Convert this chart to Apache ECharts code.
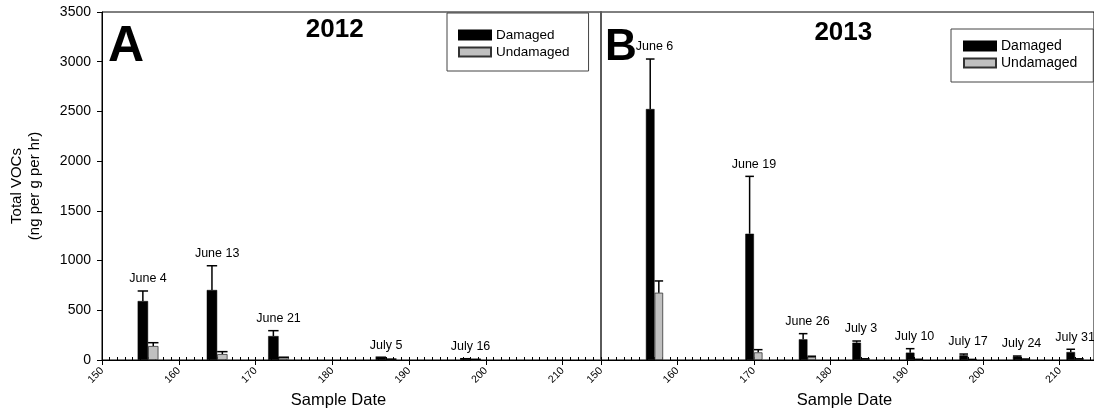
<!DOCTYPE html>
<html><head><meta charset="utf-8">
<script src="https://cdn.jsdelivr.net/npm/echarts@6/dist/echarts.min.js"></script>
<style>html,body{margin:0;padding:0;background:#fff}#c{width:1094px;height:415px}</style>
</head><body><div id="c"></div>
<script>
// ---- data (day of year) ----
const days2012 = [156, 165, 173, 187, 198];
const labels2012 = ['June 4', 'June 13', 'June 21', 'July 5', 'July 16'];
const damaged2012 = [593, 704, 241, 24, 9];
const damagedSE2012 = [101, 244, 54, 4, 4];
const undamaged2012 = [141, 60, 24, 7, 5];
const undamagedSE2012 = [33, 24, 4, 2, 2];

const days2013 = [157, 170, 177, 184, 191, 198, 205, 212];
const labels2013 = ['June 6', 'June 19', 'June 26', 'July 3', 'July 10', 'July 17', 'July 24', 'July 31'];
const damaged2013 = [2524, 1270, 208, 174, 74, 47, 34, 80];
const damagedSE2013 = [503, 577, 57, 17, 40, 13, 6, 28];
const undamaged2013 = [677, 77, 30, 10, 5, 4, 8, 10];
const undamagedSE2013 = [118, 27, 8, 2, 2, 2, 2, 2];

const xTickValues = [150, 160, 170, 180, 190, 200, 210];
const yMin = 0, yMax = 3500, yStep = 500;
const panelTitles = ['A', '2012', 'B', '2013'];
const seriesNames = ['Damaged', 'Undamaged'];
const yAxisName = 'Total VOCs\n(ng per g per hr)';
const xAxisName = 'Sample Date';

const FONT = '"Liberation Sans", Arial, sans-serif';
const BW = [10.4, 8.6];

function errRender(days, dam, damSE, und, undSE, labels, bw) {
  return function (params, api) {
    const i = params.dataIndex;
    const x = api.coord([days[i], 0])[0];
    const children = [];
    const pairs = [[dam[i], damSE[i], x - bw / 2], [und[i], undSE[i], x + bw / 2]];
    let topY = Infinity;
    pairs.forEach(function (p) {
      const y0 = api.coord([days[i], p[0]])[1];
      const y1 = api.coord([days[i], p[0] + p[1]])[1];
      topY = Math.min(topY, y1, y0);
      children.push({type: 'line', shape: {x1: p[2], y1: y0, x2: p[2], y2: y1}, style: {stroke: '#000', lineWidth: 1.5}});
      children.push({type: 'line', shape: {x1: p[2] - bw / 2, y1: y1, x2: p[2] + bw / 2, y2: y1}, style: {stroke: '#000', lineWidth: 1.5}});
    });
    children.push({type: 'text', x: x, y: topY - 12, style: {text: labels[i], fill: '#000', font: '12.5px ' + FONT, textAlign: 'center', textVerticalAlign: 'middle'}});
    return {type: 'group', children: children};
  };
}

function mainX(gi, max, nameGap, namePad) {
  return {
    type: 'value', gridIndex: gi, min: 150, max: max, interval: 10,
    axisLine: {show: true, onZero: false, lineStyle: {color: '#000', width: 1}},
    axisTick: {show: true, length: 5, customValues: xTickValues, lineStyle: {color: '#000'}},
    axisLabel: {show: true, rotate: 45, margin: 9, fontSize: 10.5, color: '#000', fontFamily: FONT, customValues: xTickValues},
    splitLine: {show: false},
    name: xAxisName, nameLocation: 'middle', nameGap: nameGap,
    nameTextStyle: {fontSize: 16.5, color: '#000', fontFamily: FONT, padding: namePad}
  };
}
function minorX(gi, max) {
  return {
    type: 'value', gridIndex: gi, min: 150, max: max, interval: 1,
    axisLine: {show: false}, axisLabel: {show: false}, splitLine: {show: false},
    axisTick: {show: true, length: 3, lineStyle: {color: '#000'}}
  };
}

const option = {
  animation: false,
  backgroundColor: '#fff',
  textStyle: {fontFamily: FONT},
  grid: [
    {left: 102, top: 12, width: 499, height: 348, show: true, borderColor: '#000', borderWidth: 1, backgroundColor: 'transparent'},
    {left: 601, top: 12, width: 495, height: 348, show: true, borderColor: '#000', borderWidth: 1, backgroundColor: 'transparent'}
  ],
  xAxis: [
    mainX(0, 215, 21, [0, 26, 0, 0]),
    mainX(1, 214.48, 31, [0, 6, 0, 0]),
    minorX(0, 215),
    minorX(1, 214.48)
  ],
  yAxis: [
    {type: 'value', gridIndex: 0, min: yMin, max: yMax, interval: yStep,
     axisLine: {show: true, lineStyle: {color: '#000', width: 1}},
     axisTick: {show: true, length: 5, lineStyle: {color: '#000'}},
     axisLabel: {fontSize: 14, color: '#000', margin: 11, fontFamily: FONT, formatter: function (v) { return String(v); }},
     splitLine: {show: false},
     name: yAxisName, nameLocation: 'middle', nameGap: 58,
     nameTextStyle: {fontSize: 15, color: '#000', fontFamily: FONT, lineHeight: 18, align: 'center'}},
    {type: 'value', gridIndex: 1, min: yMin, max: yMax, interval: yStep,
     axisLine: {show: true, lineStyle: {color: '#5a5a5a', width: 2}},
     axisTick: {show: false}, axisLabel: {show: false}, splitLine: {show: false}}
  ],
  legend: [
    {data: seriesNames, orient: 'vertical', left: 447, top: 13, padding: [15, 19, 12, 11],
     itemWidth: 32, itemHeight: 9, itemGap: 3, itemTextGap: 9, borderColor: '#444', borderWidth: 1,
     selectedMode: false, icon: 'rect', textStyle: {fontSize: 13.5, color: '#000', fontFamily: FONT}},
    {data: seriesNames, orient: 'vertical', left: 951, top: 29, padding: [10, 16, 12, 12],
     itemWidth: 32, itemHeight: 9, itemGap: 3, itemTextGap: 9, borderColor: '#444', borderWidth: 1,
     selectedMode: false, icon: 'rect', textStyle: {fontSize: 14, color: '#000', fontFamily: FONT}}
  ],
  graphic: [
    {type: 'text', left: 108, top: 22, style: {text: panelTitles[0], font: 'bold 50px ' + FONT, fill: '#000'}},
    {type: 'text', x: 334.7, y: 30, style: {text: panelTitles[1], font: 'bold 26px ' + FONT, fill: '#000', textAlign: 'center', textVerticalAlign: 'middle'}},
    {type: 'text', left: 605, top: 26, style: {text: panelTitles[2], font: 'bold 44px ' + FONT, fill: '#000'}},
    {type: 'text', x: 843.3, y: 32.5, style: {text: panelTitles[3], font: 'bold 26px ' + FONT, fill: '#000', textAlign: 'center', textVerticalAlign: 'middle'}}
  ],
  series: [
    {name: seriesNames[0], type: 'bar', xAxisIndex: 0, yAxisIndex: 0, barWidth: BW[0], barGap: '0%',
     itemStyle: {color: '#000', borderColor: '#000', borderWidth: 0.5},
     data: days2012.map((d, i) => [d, damaged2012[i]])},
    {name: seriesNames[1], type: 'bar', xAxisIndex: 0, yAxisIndex: 0, barWidth: BW[0], barGap: '0%',
     itemStyle: {color: '#c0c0c0', borderColor: '#333', borderWidth: 0.8},
     data: days2012.map((d, i) => [d, undamaged2012[i]])},
    {type: 'custom', xAxisIndex: 0, yAxisIndex: 0, z: 5, clip: false,
     renderItem: errRender(days2012, damaged2012, damagedSE2012, undamaged2012, undamagedSE2012, labels2012, BW[0]),
     data: days2012.map((d, i) => [d, damaged2012[i] + damagedSE2012[i]])},
    {name: seriesNames[0], type: 'bar', xAxisIndex: 1, yAxisIndex: 1, barWidth: BW[1], barGap: '0%',
     itemStyle: {color: '#000', borderColor: '#000', borderWidth: 0.5},
     data: days2013.map((d, i) => [d, damaged2013[i]])},
    {name: seriesNames[1], type: 'bar', xAxisIndex: 1, yAxisIndex: 1, barWidth: BW[1], barGap: '0%',
     itemStyle: {color: '#c0c0c0', borderColor: '#333', borderWidth: 0.8},
     data: days2013.map((d, i) => [d, undamaged2013[i]])},
    {type: 'custom', xAxisIndex: 1, yAxisIndex: 1, z: 5, clip: false,
     renderItem: errRender(days2013, damaged2013, damagedSE2013, undamaged2013, undamagedSE2013, labels2013, BW[1]),
     data: days2013.map((d, i) => [d, damaged2013[i] + damagedSE2013[i]])}
  ]
};
const chart = echarts.init(document.getElementById('c'), null, {renderer: 'canvas'});
chart.setOption(option);
</script></body></html>
